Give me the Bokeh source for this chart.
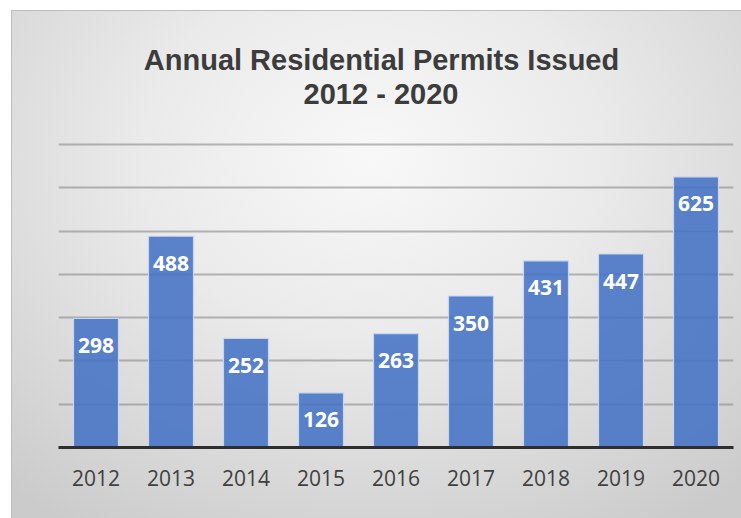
from bokeh.plotting import figure
from bokeh.models import FactorRange, Range1d, FixedTicker
from bokeh.core.properties import value
from bokeh.embed import file_html
from bokeh.resources import INLINE

# ---- data ----
years = ["2012", "2013", "2014", "2015", "2016", "2017", "2018", "2019", "2020"]
permits = [298, 488, 252, 126, 263, 350, 431, 447, 625]
permit_labels = [str(v) for v in permits]
grid_ticks = [100, 200, 300, 400, 500, 600, 700]
title_line1 = "Annual Residential Permits Issued"
title_line2 = "2012 - 2020"

# ---- layout geometry (pixels) ----
W, H = 741, 518
left, right, bottom = 58, 8, 71
frame_h = H - bottom                 # frame spans from top of canvas to axis line
px_per_unit = 303 / 700.0            # 700 permits span 303 px
y_end = frame_h / px_per_unit

def y_at(px_from_top):
    return (frame_h - px_from_top) / px_per_unit

p = figure(
    width=W, height=H,
    x_range=FactorRange(factors=years, range_padding=0),
    y_range=Range1d(0, y_end),
    output_backend="svg", toolbar_location=None,
    min_border_left=left, min_border_right=right,
    min_border_top=0, min_border_bottom=bottom,
)
p.background_fill_color = None
p.border_fill_color = None
p.outline_line_color = None
p.styles = {
    "background": "radial-gradient(ellipse 75% 85% at 50% 30%, #f8f8f8 0%, #eaeaea 42%, #cbcbcb 100%)",
    "box-shadow": "inset 11px 10px 0 0 #ffffff, inset 12px 11px 0 0 #bdbdbd",
}

# grid
p.xgrid.grid_line_color = None
p.ygrid.ticker = FixedTicker(ticks=grid_ticks)
p.ygrid.grid_line_color = "#8a8a8a"
p.ygrid.grid_line_alpha = 0.6
p.ygrid.grid_line_width = 2

# axes
p.yaxis.visible = False
xa = p.xaxis[0]
xa.axis_line_color = "#2e2e2e"
xa.axis_line_width = 3
xa.major_tick_line_color = None
xa.minor_tick_line_color = None
xa.major_label_text_font = "Open Sans"
xa.major_label_text_font_size = "21px"
xa.major_label_text_color = "#404040"
xa.major_label_standoff = 16

# bars
p.vbar(x=years, top=permits, bottom=0, width=0.6,
       fill_color="#4472C4", fill_alpha=0.87,
       line_color="#c8d5ee", line_width=1.2)

# value labels
p.text(x=years, y=permits, text=permit_labels,
       text_align="center", text_baseline="middle", y_offset=27,
       text_color="#ffffff", text_font=value("Open Sans"),
       text_font_style="bold", text_font_size="21px")

# title (two lines)
p.text(x=["2016"], y=[y_at(59)], text=[title_line1], x_offset=-14.5,
       text_align="center", text_baseline="alphabetic",
       text_color="#3c3c3c", text_font=value("Liberation Sans"),
       text_font_style="bold", text_font_size="29px")
p.text(x=["2016"], y=[y_at(93)], text=[title_line2], x_offset=-15,
       text_align="center", text_baseline="alphabetic",
       text_color="#3c3c3c", text_font=value("Liberation Sans"),
       text_font_style="bold", text_font_size="29px")

open("out.html", "w").write(file_html(p, INLINE))
